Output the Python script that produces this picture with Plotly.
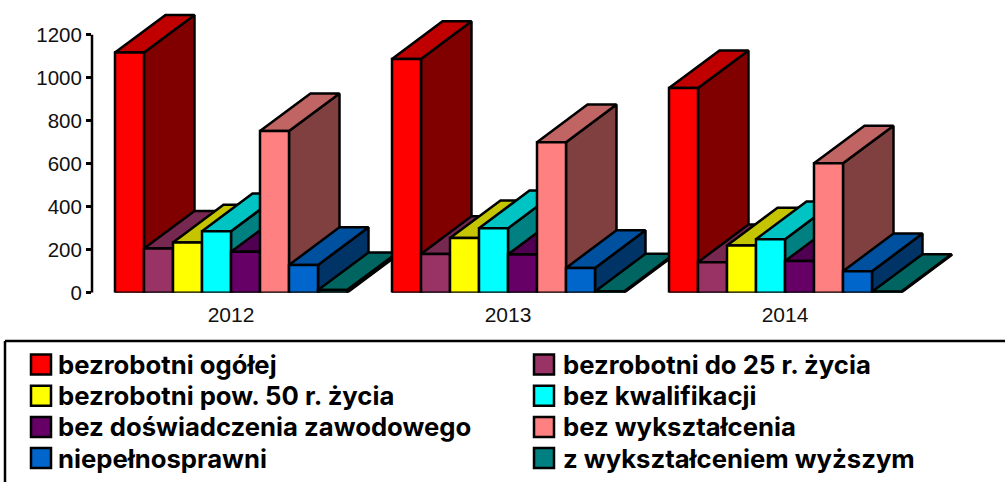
import plotly.graph_objects as go

years = ["2012", "2013", "2014"]
series_names = ["bezrobotni ogółej", "bezrobotni do 25 r. życia", "bezrobotni pow. 50 r. życia", "bez kwalifikacji",
                "bez doświadczenia zawodowego", "bez wykształcenia", "niepełnosprawni", "z wykształceniem wyższym"]
v_ogolem = [1117, 1087, 952]
v_do25 = [205, 180, 142]
v_pow50 = [234, 254, 220]
v_kwal = [286, 300, 249]
v_dosw = [190, 178, 147]
v_wyksz = [752, 700, 602]
v_niepel = [129, 115, 100]
v_wyzsze = [12, 6, 4]
values = [v_ogolem, v_do25, v_pow50, v_kwal, v_dosw, v_wyksz, v_niepel, v_wyzsze]

front = ["#FF0000", "#993366", "#FFFF00", "#00FFFF", "#660066", "#FF8080", "#0066CC", "#008080"]
top = ["#C00000", "#772850", "#C4C400", "#00C4C4", "#500050", "#C06464", "#0050A0", "#006460"]
side = ["#800000", "#4D1A33", "#808000", "#008080", "#330033", "#804040", "#003366", "#004040"]

W, H = 1005, 482
GROUP_STEP = 277 / 29
DX = 50.5 / 29
DY = 175.0
BORDER = 2.5


def px(x):
    return x / W


def py(y):
    return 1 - y / H


fig = go.Figure()


def poly(xs, ys, color, name):
    fig.add_trace(go.Scatter(x=xs + xs[:1], y=ys + ys[:1], mode="lines", fill="toself", fillcolor=color,
                             line=dict(color="black", width=BORDER, simplify=False), name=name,
                             showlegend=False, hoverinfo="skip"))


for g in range(len(years)):
    for s, vals in enumerate(values):
        x0 = g * GROUP_STEP + s
        x1 = x0 + 1
        v = vals[g]
        poly([x1, x1 + DX, x1 + DX, x1], [0, DY, v + DY, v], side[s], series_names[s])
        poly([x0, x1, x1 + DX, x0 + DX], [v, v, v + DY, v + DY], top[s], series_names[s])
        poly([x0, x1, x1, x0], [0, 0, v, v], front[s], series_names[s])

shapes = [
    dict(type="line", xref="paper", yref="y", x0=px(92), x1=px(92), y0=0, y1=1200, line=dict(color="black", width=2.5)),
    dict(type="line", xref="paper", yref="paper", x0=px(5), x1=px(5), y0=py(341), y1=0, line=dict(color="black", width=2.5)),
    dict(type="line", xref="paper", yref="paper", x0=px(5), x1=1, y0=py(341), y1=py(341), line=dict(color="black", width=2.5)),
]
annotations = []
for i, name in enumerate(series_names):
    col, row = i % 2, i // 2
    sx = 31 if col == 0 else 534
    tx = 57 if col == 0 else 562
    cy = 364.5 + row * 31.2
    shapes.append(dict(type="rect", xref="paper", yref="paper", x0=px(sx), x1=px(sx + 20),
                       y0=py(cy - 10), y1=py(cy + 10), fillcolor=front[i], line=dict(color="black", width=2.5)))
    annotations.append(dict(text=name, xref="paper", yref="paper", x=px(tx), y=py(cy), xanchor="left",
                            yanchor="middle", showarrow=False, borderpad=0,
                            font=dict(family="Inter", size=25.7, color="black", weight=700)))

fig.update_layout(
    width=W, height=H, margin=dict(l=0, r=0, t=0, b=0, autoexpand=False), plot_bgcolor="white", paper_bgcolor="white",
    showlegend=False, shapes=shapes, annotations=annotations,
    xaxis=dict(domain=[px(92), px(1000)], range=[-23 / 29, 885 / 29], tickmode="array",
               tickvals=[g * GROUP_STEP + 4 for g in range(len(years))], ticktext=years, ticks="",
               showline=False, showgrid=False, zeroline=False, ticklabelstandoff=7,
               tickfont=dict(family="Liberation Sans", size=21, color="#111111")),
    yaxis=dict(domain=[py(292.7), py(10)], range=[0, 282.7 / 0.215], tickmode="array",
               tickvals=[0, 200, 400, 600, 800, 1000, 1200], ticks="outside", ticklen=5, tickwidth=2.5,
               tickcolor="black", showline=False, showgrid=False, zeroline=False,
               tickfont=dict(family="Liberation Sans", size=20.5, color="#111111")),
)
fig.write_html("out.html", config=dict(displayModeBar=False), post_script="document.body.style.margin='0';")
